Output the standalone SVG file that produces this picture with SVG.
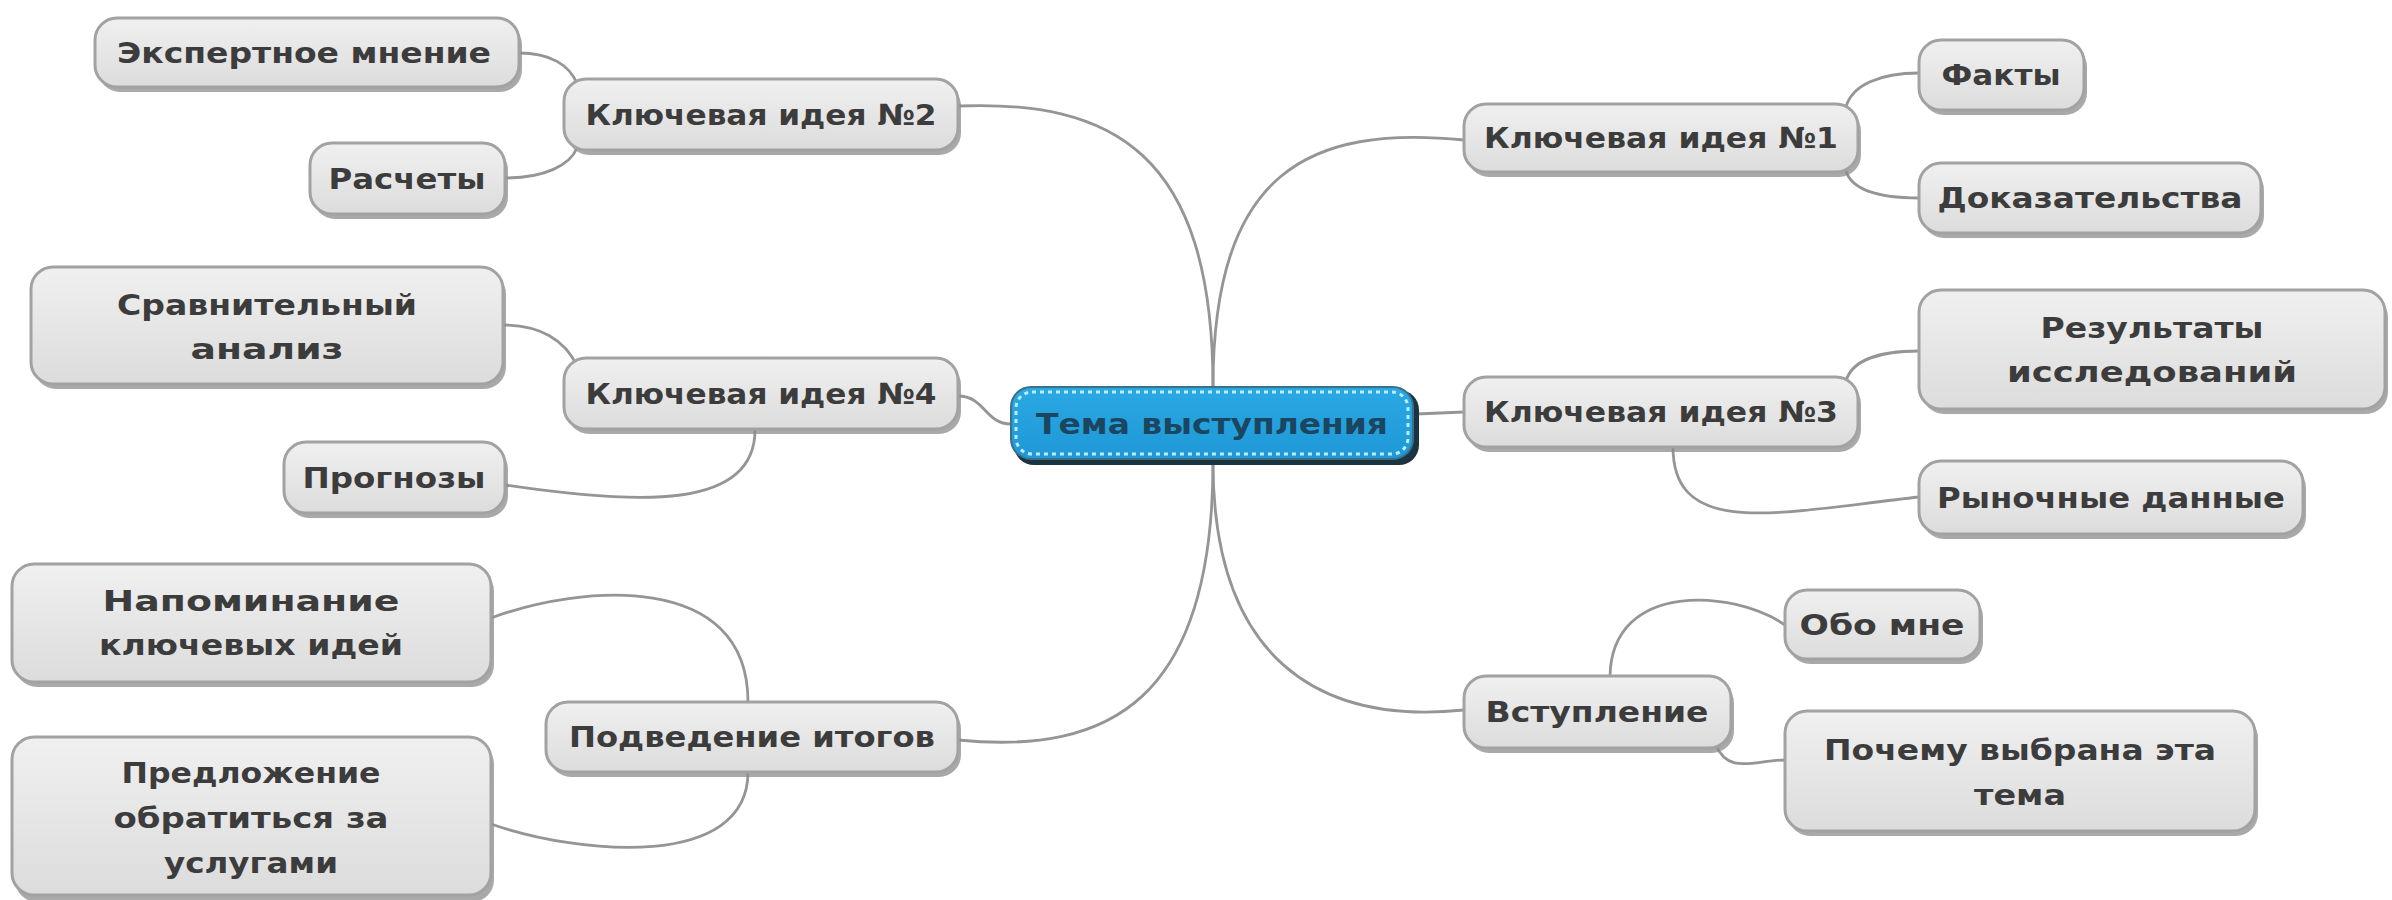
<svg xmlns="http://www.w3.org/2000/svg" width="2392" height="900" viewBox="0 0 2392 900">
<defs>
<linearGradient id="g" x1="0" y1="0" x2="0" y2="1">
<stop offset="0" stop-color="#f0f0f0"/>
<stop offset="1" stop-color="#dcdcdc"/>
</linearGradient>
<linearGradient id="gb" x1="0" y1="0" x2="0" y2="1">
<stop offset="0" stop-color="#2aa9e4"/>
<stop offset="1" stop-color="#1e98d6"/>
</linearGradient>
<style>
.sh{fill:#8c8c8c;opacity:0.75}
.bx{fill:url(#g);stroke:#a2a2a2;stroke-width:3}
.t{font-family:"DejaVu Sans","Liberation Sans",sans-serif;font-weight:bold;font-size:29px;fill:#3c3c3c;text-anchor:middle}
.c{fill:none;stroke:#959595;stroke-width:2.8}
</style>
</defs>
<rect width="2392" height="900" fill="#ffffff"/>
<g id="connectors">
<path class="c" d="M1213,387 C1213,150 1110,100 958,106"/>
<path class="c" d="M1213,387 C1213,170 1310,125 1464,140"/>
<path class="c" d="M1011,424 C985,424 985,396 958,396"/>
<path class="c" d="M1416,414 L1464,412"/>
<path class="c" d="M1213,462 C1213,700 1110,755 958,740"/>
<path class="c" d="M1213,462 C1213,660 1320,725 1464,710"/>
<path class="c" d="M519,53 C550,53 570,65 577,84"/>
<path class="c" d="M505,178 C545,178 570,165 577,148"/>
<path class="c" d="M503,325 C540,325 565,340 577,366"/>
<path class="c" d="M505,485 C640,505 755,510 755,430"/>
<path class="c" d="M491,618 C580,585 748,570 748,702"/>
<path class="c" d="M491,824 C580,855 748,870 748,772"/>
<path class="c" d="M1919,73 C1880,73 1852,85 1846,107"/>
<path class="c" d="M1919,198 C1880,198 1852,190 1846,171"/>
<path class="c" d="M1919,351 C1880,351 1852,360 1846,381"/>
<path class="c" d="M1673,447 C1673,540 1780,512 1919,497"/>
<path class="c" d="M1610,676 C1612,580 1735,590 1785,625"/>
<path class="c" d="M1716,745 C1728,775 1755,760 1785,760"/>
</g>
<g id="n-center">
<rect x="1014" y="390" width="405" height="75" rx="20" fill="#1b3442"/>
<rect x="1011" y="387" width="402" height="72" rx="20" fill="url(#gb)" stroke="#3b6f8a" stroke-width="2"/>
<rect x="1016" y="392" width="392" height="62" rx="16" fill="none" stroke="#bfeaff" stroke-width="3" stroke-dasharray="4 4"/>
<text class="t" x="1212" y="434" textLength="352" lengthAdjust="spacingAndGlyphs" style="fill:#1c4560">Тема выступления</text>
</g>
<g id="n-ki2">
<rect class="sh" x="567" y="84" width="394" height="71" rx="22"/>
<rect class="bx" x="564" y="79" width="394" height="71" rx="22"/>
<text class="t" x="761" y="125" textLength="351" lengthAdjust="spacingAndGlyphs">Ключевая идея №2</text>
</g>
<g id="n-expert">
<rect class="sh" x="98" y="23" width="424" height="69" rx="22"/>
<rect class="bx" x="95" y="18" width="424" height="69" rx="22"/>
<text class="t" x="304" y="63" textLength="374" lengthAdjust="spacingAndGlyphs">Экспертное мнение</text>
</g>
<g id="n-calc">
<rect class="sh" x="313" y="148" width="195" height="71" rx="22"/>
<rect class="bx" x="310" y="143" width="195" height="71" rx="22"/>
<text class="t" x="407" y="189" textLength="157" lengthAdjust="spacingAndGlyphs">Расчеты</text>
</g>
<g id="n-ki4">
<rect class="sh" x="567" y="363" width="394" height="71" rx="22"/>
<rect class="bx" x="564" y="358" width="394" height="71" rx="22"/>
<text class="t" x="761" y="404" textLength="351" lengthAdjust="spacingAndGlyphs">Ключевая идея №4</text>
</g>
<g id="n-compare">
<rect class="sh" x="34" y="272" width="472" height="117" rx="22"/>
<rect class="bx" x="31" y="267" width="472" height="117" rx="22"/>
<text class="t" x="267" y="315" textLength="300" lengthAdjust="spacingAndGlyphs">Сравнительный</text>
<text class="t" x="267" y="359" textLength="153" lengthAdjust="spacingAndGlyphs">анализ</text>
</g>
<g id="n-forecast">
<rect class="sh" x="287" y="447" width="221" height="71" rx="22"/>
<rect class="bx" x="284" y="442" width="221" height="71" rx="22"/>
<text class="t" x="394" y="488" textLength="183" lengthAdjust="spacingAndGlyphs">Прогнозы</text>
</g>
<g id="n-summary">
<rect class="sh" x="549" y="707" width="412" height="70" rx="22"/>
<rect class="bx" x="546" y="702" width="412" height="70" rx="22"/>
<text class="t" x="752" y="747" textLength="366" lengthAdjust="spacingAndGlyphs">Подведение итогов</text>
</g>
<g id="n-remind">
<rect class="sh" x="15" y="569" width="479" height="118" rx="22"/>
<rect class="bx" x="12" y="564" width="479" height="118" rx="22"/>
<text class="t" x="251" y="611" textLength="297" lengthAdjust="spacingAndGlyphs">Напоминание</text>
<text class="t" x="251" y="655" textLength="304" lengthAdjust="spacingAndGlyphs">ключевых идей</text>
</g>
<g id="n-offer">
<rect class="sh" x="15" y="742" width="479" height="160" rx="22"/>
<rect class="bx" x="12" y="737" width="479" height="158" rx="22"/>
<text class="t" x="251" y="783" textLength="259" lengthAdjust="spacingAndGlyphs">Предложение</text>
<text class="t" x="251" y="828" textLength="275" lengthAdjust="spacingAndGlyphs">обратиться за</text>
<text class="t" x="251" y="873" textLength="174" lengthAdjust="spacingAndGlyphs">услугами</text>
</g>
<g id="n-ki1">
<rect class="sh" x="1467" y="109" width="394" height="68" rx="22"/>
<rect class="bx" x="1464" y="104" width="394" height="68" rx="22"/>
<text class="t" x="1661" y="148" textLength="354" lengthAdjust="spacingAndGlyphs">Ключевая идея №1</text>
</g>
<g id="n-facts">
<rect class="sh" x="1922" y="45" width="165" height="70" rx="22"/>
<rect class="bx" x="1919" y="40" width="165" height="70" rx="22"/>
<text class="t" x="2001" y="85" textLength="119" lengthAdjust="spacingAndGlyphs">Факты</text>
</g>
<g id="n-proof">
<rect class="sh" x="1922" y="168" width="342" height="70" rx="22"/>
<rect class="bx" x="1919" y="163" width="342" height="70" rx="22"/>
<text class="t" x="2090" y="208" textLength="305" lengthAdjust="spacingAndGlyphs">Доказательства</text>
</g>
<g id="n-ki3">
<rect class="sh" x="1467" y="382" width="394" height="70" rx="22"/>
<rect class="bx" x="1464" y="377" width="394" height="70" rx="22"/>
<text class="t" x="1661" y="422" textLength="354" lengthAdjust="spacingAndGlyphs">Ключевая идея №3</text>
</g>
<g id="n-research">
<rect class="sh" x="1922" y="295" width="466" height="119" rx="22"/>
<rect class="bx" x="1919" y="290" width="466" height="119" rx="22"/>
<text class="t" x="2152" y="338" textLength="223" lengthAdjust="spacingAndGlyphs">Результаты</text>
<text class="t" x="2152" y="382" textLength="290" lengthAdjust="spacingAndGlyphs">исследований</text>
</g>
<g id="n-market">
<rect class="sh" x="1922" y="466" width="384" height="73" rx="22"/>
<rect class="bx" x="1919" y="461" width="384" height="73" rx="22"/>
<text class="t" x="2111" y="508" textLength="348" lengthAdjust="spacingAndGlyphs">Рыночные данные</text>
</g>
<g id="n-intro">
<rect class="sh" x="1467" y="681" width="267" height="72" rx="22"/>
<rect class="bx" x="1464" y="676" width="267" height="72" rx="22"/>
<text class="t" x="1597" y="722" textLength="223" lengthAdjust="spacingAndGlyphs">Вступление</text>
</g>
<g id="n-about">
<rect class="sh" x="1788" y="595" width="195" height="69" rx="22"/>
<rect class="bx" x="1785" y="590" width="195" height="69" rx="22"/>
<text class="t" x="1882" y="635" textLength="165" lengthAdjust="spacingAndGlyphs">Обо мне</text>
</g>
<g id="n-why">
<rect class="sh" x="1788" y="716" width="470" height="120" rx="22"/>
<rect class="bx" x="1785" y="711" width="470" height="120" rx="22"/>
<text class="t" x="2020" y="760" textLength="392" lengthAdjust="spacingAndGlyphs">Почему выбрана эта</text>
<text class="t" x="2020" y="805" textLength="92" lengthAdjust="spacingAndGlyphs">тема</text>
</g>
</svg>
